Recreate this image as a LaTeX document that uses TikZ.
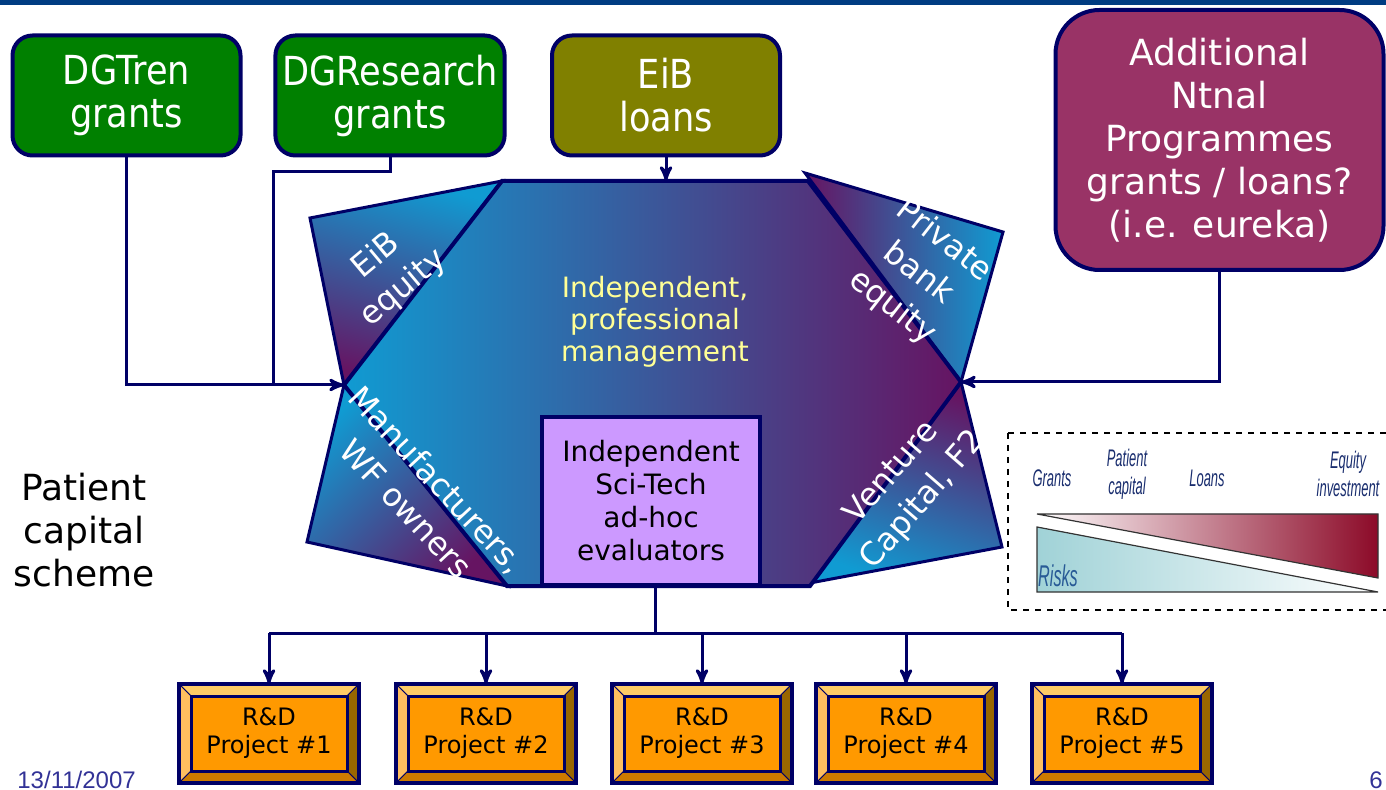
\documentclass[tikz,border=0pt]{standalone}
\usepackage{fontspec}
\setmainfont{DejaVu Sans}
\newfontfamily\tahoma[FakeStretch=0.88]{DejaVu Sans}
\newfontfamily\narrowfont[FakeStretch=0.54]{Liberation Sans}
\newfontfamily\arialfont{Liberation Sans}
\usetikzlibrary{arrows}

\definecolor{navy}{RGB}{0,0,102}
\definecolor{topbar}{RGB}{0,60,130}
\definecolor{grgreen}{RGB}{0,128,0}
\definecolor{olivegr}{RGB}{128,128,0}
\definecolor{plum}{RGB}{153,51,102}
\definecolor{cyanblue}{RGB}{16,155,210}
\definecolor{deeppurple}{RGB}{102,20,98}
\definecolor{paleyellow}{RGB}{255,255,150}
\definecolor{lilac}{RGB}{204,153,255}
\definecolor{projorange}{RGB}{255,153,0}
\definecolor{bevtop}{RGB}{255,204,102}
\definecolor{bevleft}{RGB}{255,190,95}
\definecolor{bevright}{RGB}{153,102,0}
\definecolor{bevbottom}{RGB}{204,122,0}
\definecolor{legendblue}{RGB}{25,45,110}
\definecolor{risksblue}{RGB}{40,90,150}
\definecolor{darkred}{RGB}{140,10,40}
\definecolor{tealpale}{RGB}{160,210,215}
\definecolor{dateblue}{RGB}{50,50,150}

\begin{document}
\begin{tikzpicture}[x=0.5pt,y=-0.5pt,>=stealth',
  conn/.style={draw=navy,line width=1.5pt},
  src node/.style={rectangle,rounded corners=10pt,draw=navy,line width=2pt,text=white,align=center,
    minimum width=114pt,minimum height=60pt,font=\tahoma\fontsize{20}{21.5}\selectfont},
  ntnal node/.style={rectangle,rounded corners=22pt,draw=navy,line width=2pt,fill=plum,text=white,align=center,
    minimum width=164pt,minimum height=130pt,font=\fontsize{18}{21.5}\selectfont},
  wing/.style={draw=navy,line width=1.5pt,line join=miter},
  wing label/.style={text=white,align=center,font=\fontsize{16}{21}\selectfont},
  eval node/.style={rectangle,draw=navy,line width=2pt,fill=lilac,align=center,
    minimum width=109pt,minimum height=84pt,font=\fontsize{14}{16.5}\selectfont},
  proj node/.style={rectangle,draw=navy,line width=2pt,fill=projorange,align=center,outer sep=0pt,
    minimum width=90pt,minimum height=49.5pt,font=\fontsize{12}{14}\selectfont},
  bevel/.style={draw=navy,line width=0.5pt},
  legend label/.style={text=legendblue,align=center,font=\narrowfont\itshape\fontsize{12}{14}\selectfont}]

  \useasboundingbox (0,0) rectangle (1386,790);
  \fill[topbar] (0,0) rectangle (1386,5);

  % sources
  \node[src node, fill=grgreen] (dgtren) at (126.5,95.5) {DGTren\\grants};
  \node[src node, fill=grgreen] (dgres) at (390,95.5) {DGResearch\\grants};
  \node[src node, fill=olivegr] (eibl) at (666,95.5) {EiB\\loans};
  \node[ntnal node] (ntnal) at (1219.5,140) {Additional\\Ntnal\\Programmes\\grants / loans?\\(i.e. eureka)};

  % fund
  \coordinate (hexTL) at (502,181);
  \coordinate (hexTR) at (808,181);
  \coordinate (hexR) at (961,382);
  \coordinate (hexBR) at (810,586);
  \coordinate (hexBL) at (507,586);
  \coordinate (hexL) at (344,385);
  \coordinate (hexB) at (655,586);

  \shadedraw[wing, top color=cyanblue, bottom color=deeppurple, shading angle=-15] (310,218) -- (hexTL) -- (hexL) -- cycle;
  \shadedraw[wing, top color=deeppurple, bottom color=cyanblue, shading angle=-135] (hexL) -- (307,542) -- (hexBL) -- cycle;
  \shadedraw[wing, left color=deeppurple, right color=cyanblue] (805,173) -- (1003,232) -- (hexR) -- cycle;
  \shadedraw[wing, top color=deeppurple, bottom color=cyanblue, shading angle=-20] (hexR) -- (1002,547) -- (810,583) -- cycle;
  \shadedraw[draw=navy, line width=2pt, left color=cyanblue, right color=deeppurple]
    (hexTL) -- (hexTR) -- (hexR) -- (hexBR) -- (hexBL) -- (hexL) -- cycle;

  \node[wing label, rotate=40] (eibeq) at (390,272) {EiB\\equity};
  \node[wing label, rotate=-38] (privbank) at (918,274) {Private\\bank\\equity};
  \node[wing label, rotate=-47] (manuf) at (422,494) {Manufacturers,\\WF owners};
  \node[wing label, rotate=49] (venture) at (908,487) {Venture\\Capital, F2};

  \node[text=paleyellow, align=center, font=\fontsize{14}{16}\selectfont] (mgmt) at (655,322) {Independent,\\professional\\management};
  \node[eval node] (eval) at (651,501) {Independent\\Sci-Tech\\ad-hoc\\evaluators};

  \node[align=center, font=\fontsize{18}{21.5}\selectfont] (scheme) at (84,530) {Patient\\capital\\scheme};

  % inflows
  \draw[conn,->] (dgtren.south) |- (hexL);
  \draw[conn] (dgres.south) -- ++(0,14) -| (dgres.west |- hexL);
  \draw[conn,->] (eibl.south) -- (eibl.south |- hexTL);
  \draw[conn,->] (ntnal.south) |- (hexR);

  % projects
  \foreach \x [count=\i] in {269,486,702,906,1122} {
    \node[proj node] (p\i) at (\x,733.5) {R\&D\\Project \#\i};
    \fill[bevtop, bevel] (p\i.north west) -- (p\i.north east) -- ([shift={(-12,12)}]p\i.north east) -- ([shift={(12,12)}]p\i.north west) -- cycle;
    \fill[bevleft, bevel] (p\i.north west) -- ([shift={(12,12)}]p\i.north west) -- ([shift={(12,-12)}]p\i.south west) -- (p\i.south west) -- cycle;
    \fill[bevright, bevel] (p\i.north east) -- ([shift={(-12,12)}]p\i.north east) -- ([shift={(-12,-12)}]p\i.south east) -- (p\i.south east) -- cycle;
    \fill[bevbottom, bevel] (p\i.south west) -- ([shift={(12,-12)}]p\i.south west) -- ([shift={(-12,-12)}]p\i.south east) -- (p\i.south east) -- cycle;
    \draw[navy, line width=1.5pt] ([shift={(12,12)}]p\i.north west) rectangle ([shift={(-12,-12)}]p\i.south east);
    \draw[navy, line width=2pt] (p\i.north west) rectangle (p\i.south east);
  }

  \coordinate (bus) at (655,633);
  \draw[conn] (hexB) -- (bus);
  \draw[conn] (p1.north |- bus) -- (p5.north |- bus);
  \foreach \i in {1,...,5}
    \draw[conn,->] (p\i.north |- bus) -- (p\i.north);

  % risk legend
  \draw[black, dashed, line width=0.8pt] (1008,433) rectangle (1392,610);
  \shade[left color=white, right color=darkred] (1037,514) -- (1378,514) -- (1378,578) -- cycle;
  \draw[black!80, line width=0.6pt] (1037,514) -- (1378,514) -- (1378,578) -- cycle;
  \shade[left color=tealpale, right color=white] (1037,527) -- (1037,592) -- (1378,592) -- cycle;
  \draw[black!80, line width=0.6pt] (1037,527) -- (1037,592) -- (1378,592) -- cycle;
  \node[legend label] (lgrants) at (1052,478) {Grants};
  \node[legend label] (lpatient) at (1127,474) {Patient\\capital};
  \node[legend label] (lloans) at (1207,478) {Loans};
  \node[legend label] (lequity) at (1348,474) {Equity\\investment};
  \node[legend label, text=risksblue, font=\narrowfont\itshape\fontsize{15}{16}\selectfont] (lrisks) at (1058,576) {Risks};

  % footer
  \node[anchor=base west, inner sep=0pt, text=dateblue, font=\arialfont\fontsize{12}{14}\selectfont] (date) at (17,788) {13/11/2007};
  \node[anchor=base east, inner sep=0pt, text=dateblue, font=\arialfont\fontsize{12}{14}\selectfont] (page) at (1383,788) {6};
\end{tikzpicture}
\end{document}
